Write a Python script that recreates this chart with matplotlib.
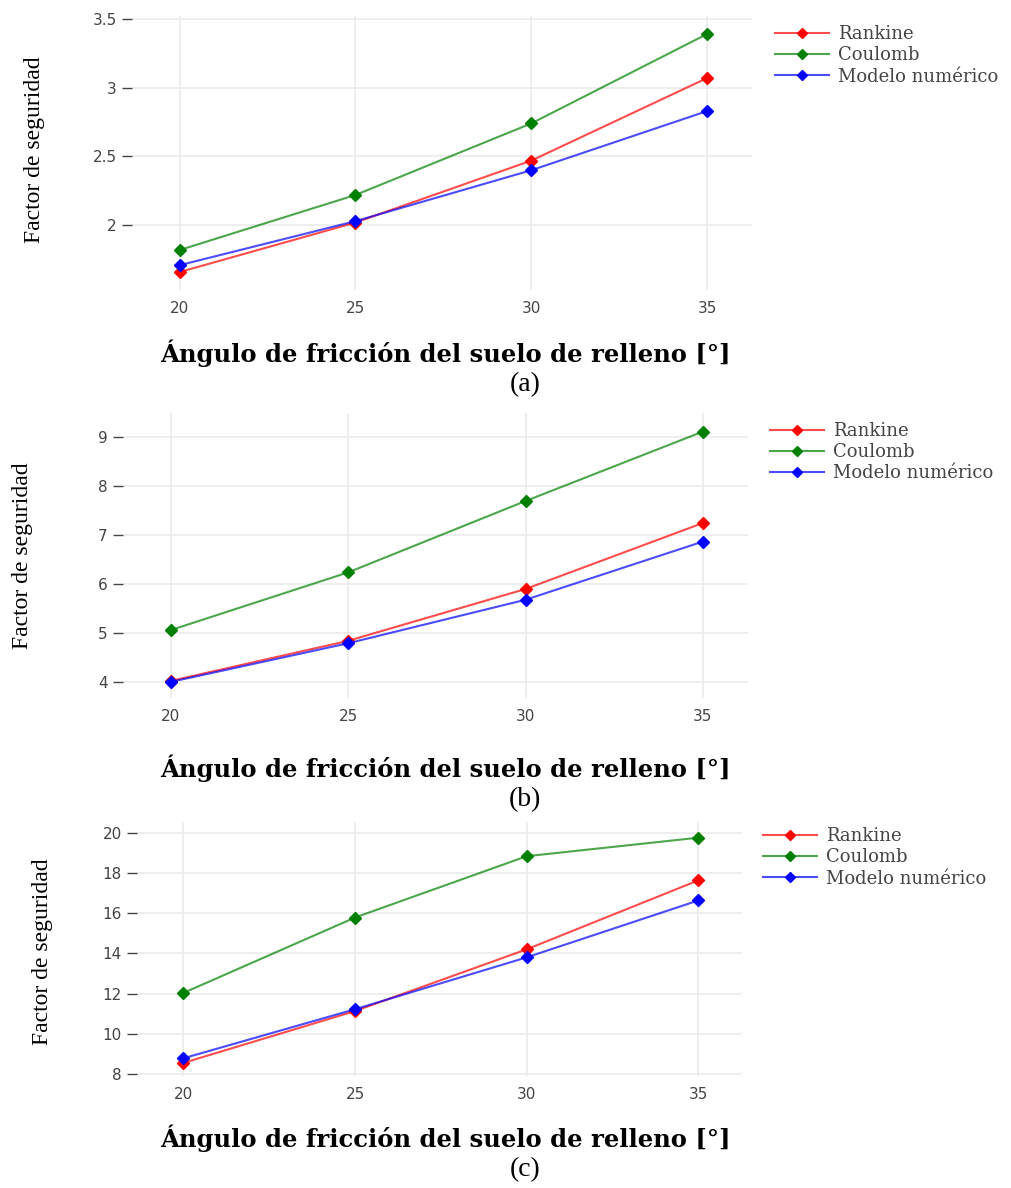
import numpy as np
import matplotlib.pyplot as plt

# data
angulos = [20, 25, 30, 35]
series = ['Rankine', 'Coulomb', 'Modelo numérico']
colores = ['#ff0000', '#008000', '#0000ff']

fs_a = [[1.66, 2.02, 2.47, 3.07],
        [1.82, 2.22, 2.74, 3.39],
        [1.71, 2.03, 2.40, 2.83]]
fs_b = [[4.02, 4.84, 5.90, 7.25],
        [5.06, 6.24, 7.70, 9.12],
        [4.00, 4.79, 5.68, 6.87]]
fs_c = [[8.55, 11.13, 14.20, 17.63],
        [12.03, 15.78, 18.83, 19.75],
        [8.78, 11.22, 13.80, 16.63]]

yticks_a = [2, 2.5, 3, 3.5]
yticks_b = [4, 5, 6, 7, 8, 9]
yticks_c = [8, 10, 12, 14, 16, 18, 20]

W, H = 1012, 1188
fig = plt.figure(figsize=(W / 100, H / 100), dpi=100)


def caja(l, r, t, b):
    return [l / W, 1 - b / H, (r - l) / W, (b - t) / H]


paneles = [
    # datos, yticks, ylim, caja, ylabel pos, xlabel y, letra y, leyenda (x, y)
    (fs_a, yticks_a, (1.53, 3.52), caja(132, 752, 16, 290), (35, 150), 353, 385, '(a)', (775, 25)),
    (fs_b, yticks_b, (3.67, 9.50), caja(123, 748, 413, 698), (23, 556), 768, 800, '(b)', (770, 422)),
    (fs_c, yticks_c, (7.90, 20.53), caja(137, 742, 822, 1076), (43, 952), 1138, 1170, '(c)', (763, 827)),
]

for datos, yt, ylim, pos, ylab, xlab_y, letra_y, letra, leg in paneles:
    ax = fig.add_axes(pos)
    for nombre, col, vals in zip(series, colores, datos):
        rgba = plt.matplotlib.colors.to_rgba(col, 0.7)
        ax.plot(angulos, vals, color=rgba, lw=1.5, marker='D', ms=6,
                mfc=col, mec=col, label=nombre)
    ax.set_xlim(18.65, 36.27)
    ax.set_ylim(*ylim)
    ax.set_xticks(angulos)
    ax.set_yticks(yt)
    ax.set_yticklabels([f'{v:g}' for v in yt])
    ax.grid(True, color='#ebebeb', lw=1.2)
    ax.set_axisbelow(True)
    for s in ax.spines.values():
        s.set_visible(False)
    ax.tick_params(axis='x', length=0, pad=8, labelsize=11, labelcolor='#444444')
    ax.tick_params(axis='y', length=7, width=1, color='#444444', pad=4,
                   labelsize=11, labelcolor='#444444')

    fig.text(ylab[0] / W, 1 - ylab[1] / H, 'Factor de seguridad', rotation=90,
             ha='center', va='center', family='Liberation Serif', fontsize=17)
    fig.text(445 / W, 1 - xlab_y / H, 'Ángulo de fricción del suelo de relleno [°]',
             ha='center', va='center', family='DejaVu Serif', fontweight='bold',
             fontsize=17.5)
    fig.text(525 / W, 1 - letra_y / H, letra, ha='center', va='center',
             family='Liberation Serif', fontsize=20)

    ax.legend(loc='upper left', bbox_to_anchor=(leg[0] / W, 1 - leg[1] / H),
              bbox_transform=fig.transFigure, frameon=False,
              prop={'family': 'DejaVu Serif', 'size': 13}, labelcolor='#444444',
              handlelength=3.0, handletextpad=0.5, labelspacing=0.18,
              borderaxespad=0, borderpad=0, markerscale=0.9)

fig.savefig('out.png', dpi=100, facecolor='white')
